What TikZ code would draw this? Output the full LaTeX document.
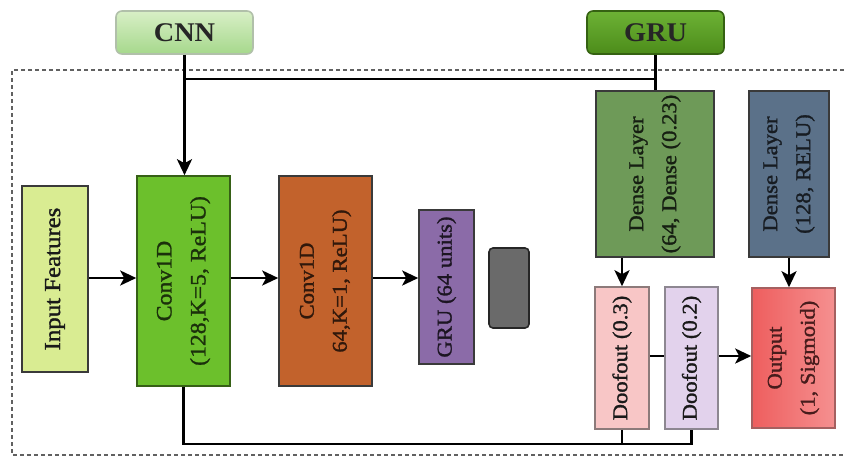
\documentclass[tikz,border=0pt]{standalone}
\usepackage{fontspec}
\setmainfont{Liberation Serif}[FakeStretch=1.08,FakeBold=1.3]
\newfontfamily\toplabel{Liberation Serif Bold}[FakeStretch=1.05]
\usetikzlibrary{arrows.meta,calc}
\definecolor{cnnA}{HTML}{D8EFC6}
\definecolor{cnnB}{HTML}{A6D88C}
\definecolor{gruA}{HTML}{6DB235}
\definecolor{gruB}{HTML}{4C8C1A}
\definecolor{inpC}{HTML}{D9EC92}
\definecolor{convA}{HTML}{6CC02C}
\definecolor{convB}{HTML}{C2622C}
\definecolor{gruC}{HTML}{8B6BA8}
\definecolor{grayC}{HTML}{6A6A6A}
\definecolor{denA}{HTML}{6E9A58}
\definecolor{denB}{HTML}{5B7189}
\definecolor{dropA}{HTML}{F8C6C6}
\definecolor{dropB}{HTML}{E2D2EC}
\definecolor{outA}{HTML}{EE5E5E}
\definecolor{outB}{HTML}{F59090}
\definecolor{edge}{HTML}{3A3A3A}
\tikzset{
  box/.style={draw=edge, line width=1.6pt, inner sep=0pt, anchor=center},
  vtext/.style={rotate=90, align=center, inner sep=0pt, font=\fontsize{21}{33}\selectfont},
  ttext/.style={font=\toplabel\fontsize{27}{30}\selectfont, text=black!85},
  arr/.style={line width=2.6pt, -{Stealth[length=16pt,width=15pt,inset=4pt]}},
  link/.style={line width=2.6pt},
}
\begin{document}
\begin{tikzpicture}[x=1pt,y=-1pt]
\useasboundingbox (0,0) rectangle (844,459);
% dashed frame
\draw[edge!80, line width=1.3pt, dash pattern=on 4pt off 3pt] (844,70) -- (12,70) -- (12,455) -- (844,455);
% top boxes
\node[box, draw=cnnB!60!black!50, rounded corners=6pt, top color=cnnA, bottom color=cnnB, minimum width=137pt, minimum height=43pt] (cnn) at (184.5,32.5) {};
\node[ttext] (cnnt) at (cnn) {CNN};
\node[box, draw=gruB!70!black, rounded corners=6pt, top color=gruA, bottom color=gruB, minimum width=137pt, minimum height=43pt] (grut) at (655.5,32.5) {};
\node[ttext] (grutt) at (grut) {GRU};
% main boxes
\node[box, fill=inpC, minimum width=66pt, minimum height=186pt] (inp) at (55,279) {};
\node[vtext, font=\fontsize{23}{33}\selectfont, text=black!90] (inpt) at (inp) {Input Features};
\node[box, draw=convA!50!black, fill=convA, minimum width=93pt, minimum height=210pt] (conv1) at (183.5,281) {};
\node[vtext, font=\fontsize{22}{34}\selectfont, text=convA!25!black] (conv1t) at (conv1) {Conv1D\\(128,K=5, ReLU)};
\node[box, fill=convB, minimum width=93pt, minimum height=210pt] (conv2) at (325.5,281) {};
\node[vtext, text=convB!25!black] (conv2t) at (conv2) {Conv1D\\64,K=1, ReLU)};
\node[box, fill=gruC, minimum width=55pt, minimum height=154pt] (gru) at (446.5,287) {};
\node[vtext, text=gruC!20!black] (grut2) at (gru) {GRU (64 units)};
\node[box, draw=black!85, rounded corners=4pt, fill=grayC, minimum width=40pt, minimum height=80pt] (gray) at (509,288) {};
\node[box, fill=denA, minimum width=118pt, minimum height=166pt] (den1) at (655,174) {};
\node[vtext, text=denA!20!black] (den1t) at (den1) {Dense Layer\\(64, Dense (0.23)};
\node[box, fill=denB, minimum width=80pt, minimum height=166pt] (den2) at (789,174) {};
\node[vtext, text=denB!25!black] (den2t) at (den2) {Dense Layer\\(128, RELU)};
\node[box, draw=dropA!45!black!80, fill=dropA, minimum width=54pt, minimum height=142pt] (drop1) at (622,358) {};
\node[vtext, text=black!90] (drop1t) at (drop1) {Doofout (0.3)};
\node[box, draw=dropB!50!black!80, fill=dropB, minimum width=53pt, minimum height=142pt] (drop2) at (691.5,358) {};
\node[vtext, text=black!90] (drop2t) at (drop2) {Doofout (0.2)};
\node[box, draw=outA!60!black!80, left color=outA, right color=outB, minimum width=83pt, minimum height=140pt] (out) at (793.5,358) {};
\node[vtext, text=outA!30!black] (outt) at (out) {Output\\(1, Sigmoid)};
% connectors
\coordinate (tl) at ($(cnn.south)+(0,24)$);
\draw[arr] (cnn.south) -- (cnn.south |- conv1.north);
\draw[link] (tl) -- (tl -| grut.south);
\draw[link] (grut.south) -- (grut.south |- den1.north);
\coordinate (my) at (0,278);
\draw[arr] (inp.east |- my) -- (conv1.west |- my);
\draw[arr] (conv1.east |- my) -- (conv2.west |- my);
\draw[arr] (conv2.east |- my) -- (gru.west |- my);
\draw[arr] (drop1.north |- den1.south) -- (drop1.north);
\draw[arr] (den2.south) -- (den2.south |- out.north);
\coordinate (dy) at (0,356);
\draw[link] (drop1.east |- dy) -- (drop2.west |- dy);
\draw[arr] (drop2.east |- dy) -- (out.west |- dy);
\coordinate (by) at (0,444);
\draw[link] (conv1.south) |- (drop2.south |- by) -- (drop2.south);
\draw[link] (drop1.south) -- (drop1.south |- by);
\end{tikzpicture}
\end{document}
